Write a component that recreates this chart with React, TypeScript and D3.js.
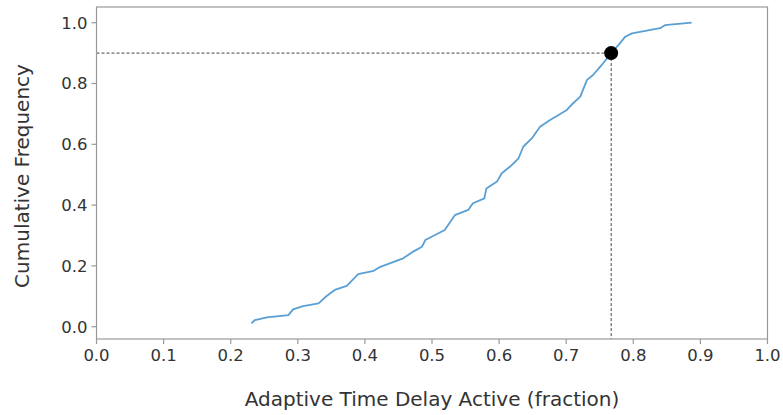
import React from "react";
import * as d3 from "d3";

const fractionValues = [
  0.231, 0.236, 0.254, 0.286, 0.293, 0.308, 0.331, 0.343, 0.355, 0.373, 0.39,
  0.413, 0.423, 0.457, 0.472, 0.485, 0.49, 0.519, 0.534, 0.554, 0.561, 0.578,
  0.581, 0.597, 0.604, 0.616, 0.629, 0.636, 0.649, 0.661, 0.676, 0.701, 0.708,
  0.721, 0.731, 0.74, 0.753, 0.767, 0.78, 0.788, 0.798, 0.84, 0.847, 0.887,
];
const cumulativeValues = [
  0.011, 0.022, 0.031, 0.038, 0.057, 0.068, 0.077, 0.101, 0.121, 0.134, 0.173,
  0.184, 0.197, 0.225, 0.247, 0.263, 0.285, 0.318, 0.367, 0.384, 0.406, 0.422,
  0.455, 0.478, 0.505, 0.526, 0.554, 0.592, 0.62, 0.658, 0.68, 0.713, 0.73,
  0.757, 0.812, 0.828, 0.861, 0.9, 0.932, 0.954, 0.965, 0.982, 0.992, 1.0,
];
const xTicks = [0, 0.1, 0.2, 0.3, 0.4, 0.5, 0.6, 0.7, 0.8, 0.9, 1.0];
const yTicks = [0, 0.2, 0.4, 0.6, 0.8, 1.0];
const markerX = 0.767;
const markerY = 0.9;
const xLabel = "Adaptive Time Delay Active (fraction)";
const yLabel = "Cumulative Frequency";

export default function App() {
  const W = 783;
  const H = 415;
  const left = 96.5;
  const right = 767.5;
  const top = 7;
  const bottom = 339;
  const x = d3.scaleLinear().domain([0, 1]).range([left, right]);
  const y = d3.scaleLinear().domain([0, 1]).range([326.7, 22.7]);
  const pts = fractionValues.map((v, i) => [v, cumulativeValues[i]] as [number, number]);
  const line = d3
    .line<[number, number]>()
    .x((d) => x(d[0]))
    .y((d) => y(d[1]));
  const font = "DejaVu Sans, sans-serif";
  const fmt = d3.format(".1f");
  return (
    <svg
      width={W}
      height={H}
      style={{ position: "absolute", left: 0, top: 0 }}
      fontFamily={font}
    >
      <rect width={W} height={H} fill="#fff" />
      {/* dashed guides */}
      <line
        x1={left}
        x2={x(markerX)}
        y1={y(markerY)}
        y2={y(markerY)}
        stroke="#444"
        strokeWidth={1}
        strokeDasharray="3,2"
      />
      <line
        x1={x(markerX)}
        x2={x(markerX)}
        y1={y(markerY)}
        y2={bottom}
        stroke="#444"
        strokeWidth={1}
        strokeDasharray="3,2"
      />
      <path
        d={line(pts) || ""}
        fill="none"
        stroke="#5a9fd4"
        strokeWidth={1.8}
        strokeLinejoin="round"
      />
      <circle cx={x(markerX)} cy={y(markerY)} r={7} fill="#000" />
      {/* frame */}
      <rect
        x={left}
        y={top}
        width={right - left}
        height={bottom - top}
        fill="none"
        stroke="#999"
        strokeWidth={1.2}
      />
      {/* x ticks */}
      {xTicks.map((t) => (
        <g key={"x" + t}>
          <line x1={x(t)} x2={x(t)} y1={bottom} y2={bottom + 5} stroke="#999" strokeWidth={1.2} />
          <text x={x(t)} y={361} textAnchor="middle" fontSize={16.5} fill="#333">
            {fmt(t)}
          </text>
        </g>
      ))}
      {/* y ticks */}
      {yTicks.map((t) => (
        <g key={"y" + t}>
          <line x1={left - 5} x2={left} y1={y(t)} y2={y(t)} stroke="#999" strokeWidth={1.2} />
          <text
            x={left - 9}
            y={y(t)}
            dy="0.36em"
            textAnchor="end"
            fontSize={16.5}
            fill="#333"
          >
            {fmt(t)}
          </text>
        </g>
      ))}
      <text x={432} y={406} textAnchor="middle" fontSize={20} fill="#333">
        {xLabel}
      </text>
      <text
        transform={`translate(29,${176}) rotate(-90)`}
        textAnchor="middle"
        fontSize={20}
        fill="#333"
      >
        {yLabel}
      </text>
    </svg>
  );
}
